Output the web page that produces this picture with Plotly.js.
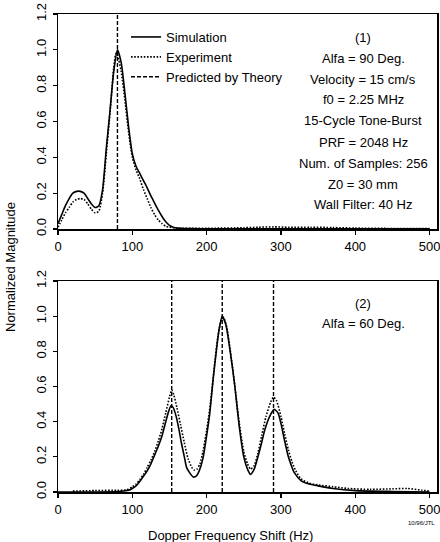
<!DOCTYPE html>
<html>
<head>
<meta charset="utf-8">
<script src="https://cdn.plot.ly/plotly-3.0.1.min.js"></script>
<style>
  html, body { margin: 0; padding: 0; background: #fff; }
  #chart { width: 440px; height: 542px; }
</style>
</head>
<body>
<div id="chart"></div>
<script>
// ---------------- DATA ----------------
// Panel (1): Alfa = 90 deg
var sim1X = [0, 5, 10, 15, 20, 25, 30, 35, 40, 45, 50, 55, 60, 65, 70, 75, 80, 85, 90, 95, 100, 105, 110, 115, 120, 125, 130, 135, 140, 145, 150, 155, 160, 180, 200, 250, 300, 350, 400, 450, 500];
var sim1Y = [0.03, 0.08, 0.13, 0.17, 0.20, 0.21, 0.21, 0.20, 0.17, 0.14, 0.12, 0.13, 0.22, 0.45, 0.66, 0.88, 1.00, 0.93, 0.76, 0.57, 0.42, 0.35, 0.31, 0.27, 0.23, 0.185, 0.145, 0.105, 0.07, 0.04, 0.02, 0.01, 0.005, 0.002, 0.001, 0.001, 0.001, 0.001, 0.001, 0.001, 0.001];
var exp1X = [0, 5, 10, 15, 20, 25, 30, 35, 40, 45, 50, 55, 60, 65, 70, 75, 78, 80, 85, 90, 95, 100, 105, 110, 115, 120, 125, 130, 135, 140, 145, 150, 160, 200, 250, 270, 290, 310, 340, 370, 400, 450, 500];
var exp1Y = [0.01, 0.05, 0.09, 0.12, 0.15, 0.165, 0.17, 0.165, 0.14, 0.11, 0.09, 0.10, 0.20, 0.42, 0.65, 0.90, 0.98, 0.97, 0.88, 0.72, 0.54, 0.40, 0.33, 0.28, 0.22, 0.17, 0.12, 0.08, 0.05, 0.03, 0.015, 0.01, 0.005, 0.004, 0.007, 0.01, 0.012, 0.01, 0.01, 0.008, 0.005, 0.003, 0.003];
var theory1 = [80];

// Panel (2): Alfa = 60 deg
var sim2X = [0, 40, 80, 95, 100, 105, 110, 115, 120, 125, 130, 135, 140, 145, 149, 152, 155, 159, 163, 166, 170, 173, 177, 182, 186, 190, 195, 200, 204, 209, 213, 217, 221, 226, 231, 235, 238, 244, 250, 255, 259, 264, 269, 274, 278, 286, 291, 296, 300, 305, 310, 314, 318, 327, 338, 350, 370, 400, 450, 500];
var sim2Y = [0, 0, 0.003, 0.01, 0.02, 0.035, 0.06, 0.09, 0.12, 0.16, 0.21, 0.26, 0.32, 0.40, 0.46, 0.49, 0.48, 0.43, 0.35, 0.28, 0.20, 0.14, 0.11, 0.085, 0.09, 0.12, 0.19, 0.32, 0.44, 0.65, 0.80, 0.93, 1.00, 0.95, 0.82, 0.70, 0.60, 0.37, 0.20, 0.13, 0.10, 0.13, 0.20, 0.28, 0.35, 0.44, 0.47, 0.45, 0.39, 0.29, 0.20, 0.15, 0.11, 0.065, 0.045, 0.035, 0.02, 0.008, 0.003, 0];
var exp2X = [20, 50, 80, 92, 100, 105, 110, 115, 120, 125, 130, 135, 140, 145, 150, 153, 156, 160, 165, 170, 175, 180, 183, 187, 191, 195, 200, 205, 210, 215, 220, 223, 227, 232, 238, 244, 250, 255, 259, 264, 269, 274, 280, 286, 290, 294, 300, 305, 310, 315, 320, 327, 338, 350, 370, 390, 420, 450, 470, 490, 500];
var exp2Y = [0.005, 0.008, 0.01, 0.012, 0.03, 0.045, 0.07, 0.10, 0.14, 0.18, 0.23, 0.29, 0.36, 0.45, 0.54, 0.58, 0.55, 0.48, 0.38, 0.28, 0.19, 0.14, 0.125, 0.13, 0.16, 0.23, 0.35, 0.50, 0.70, 0.88, 0.98, 0.99, 0.94, 0.80, 0.60, 0.39, 0.23, 0.16, 0.13, 0.15, 0.22, 0.32, 0.43, 0.51, 0.54, 0.52, 0.43, 0.33, 0.24, 0.17, 0.12, 0.075, 0.05, 0.04, 0.03, 0.02, 0.015, 0.018, 0.02, 0.01, 0.005];
var theory2 = [153, 221, 290];

var xTicks = [0, 100, 200, 300, 400, 500];
var yTicks = [0, 0.2, 0.4, 0.6, 0.8, 1.0, 1.2];
var yTickText = ['0.0', '0.2', '0.4', '0.6', '0.8', '1.0', '1.2'];
var yMax = 1.2;

var legendNames = ['Simulation', 'Experiment', 'Predicted by Theory'];
var info1 = ['(1)', 'Alfa = 90 Deg.', 'Velocity = 15 cm/s', 'f0 = 2.25 MHz', '15-Cycle Tone-Burst', 'PRF = 2048 Hz', 'Num. of Samples: 256', 'Z0 = 30 mm', 'Wall Filter: 40 Hz'];
var info2 = ['(2)', 'Alfa = 60 Deg.'];
var yTitle = 'Normalized Magnitude';
var xTitle = 'Dopper Frequency Shift (Hz)';
var stamp = '10/96/JTL';

// ---------------- BUILD ----------------
function vlines(vals) {
  var x = [], y = [];
  vals.forEach(function (v) { x.push(v, v, null); y.push(0, yMax, null); });
  return {x: x, y: y};
}
var FONT = 'Liberation Sans, Arial, Helvetica, sans-serif';
var FS = 13;
var solid = {color: '#000', width: 1.6, dash: 'solid', shape: 'spline', smoothing: 0.6};
var dotted = {color: '#000', width: 1.6, dash: '1.6px,1.6px', shape: 'spline', smoothing: 0.6};
var dashed = {color: '#000', width: 1.4, dash: '4px,2px', shape: 'linear'};

var v1 = vlines(theory1), v2 = vlines(theory2);
var traces = [
  {x: sim1X, y: sim1Y, xaxis: 'x', yaxis: 'y', mode: 'lines', line: solid, name: legendNames[0]},
  {x: exp1X, y: exp1Y, xaxis: 'x', yaxis: 'y', mode: 'lines', line: dotted, name: legendNames[1]},
  {x: v1.x, y: v1.y, xaxis: 'x', yaxis: 'y', mode: 'lines', line: dashed, name: legendNames[2]},
  {x: sim2X, y: sim2Y, xaxis: 'x2', yaxis: 'y2', mode: 'lines', line: solid, showlegend: false},
  {x: exp2X, y: exp2Y, xaxis: 'x2', yaxis: 'y2', mode: 'lines', line: dotted, showlegend: false},
  {x: v2.x, y: v2.y, xaxis: 'x2', yaxis: 'y2', mode: 'lines', line: dashed, showlegend: false}
];
traces.forEach(function (t) { t.hoverinfo = 'skip'; });

// pixel -> paper helpers (layout only)
var W = 440, H = 542, ML = 58, MR = 3, MT = 14, MB = 50;
var PW = W - ML - MR, PH = H - MT - MB;
function px(p) { return (p - ML) / PW; }
function py(p) { return (H - MB - p) / PH; }

function xax(anchor) {
  return {
    anchor: anchor, range: [0, 510], tickvals: xTicks, ticktext: xTicks.map(String),
    showgrid: false, zeroline: false, showline: true, mirror: true,
    linecolor: '#000', linewidth: 1.5, ticks: 'outside', ticklen: 4, tickwidth: 1.2, tickcolor: '#000',
    tickfont: {family: FONT, size: FS, color: '#000'}, ticklabelstandoff: 1, ticklabeloverflow: 'allow'
  };
}
function yax(anchor, dom) {
  return {
    anchor: anchor, domain: dom, range: [0, yMax], tickvals: yTicks, ticktext: yTickText,
    showgrid: false, zeroline: false, showline: true, mirror: true,
    linecolor: '#000', linewidth: 1.5, ticks: 'outside', ticklen: 4, tickwidth: 1.2, tickcolor: '#000',
    tickangle: -90, tickfont: {family: FONT, size: FS, color: '#000'}, ticklabelstandoff: 1, ticklabeloverflow: 'allow'
  };
}

var annotations = [];
function addText(t, x, y, size, angle) {
  annotations.push({text: t, xref: 'paper', yref: 'paper', x: px(x), y: py(y), textangle: angle || 0,
    xanchor: 'center', yanchor: 'middle', showarrow: false, font: {family: FONT, size: size, color: '#000'}});
}
info1.forEach(function (t, i) { addText(t, 363, 37 + i * 21, FS); });
info2.forEach(function (t, i) { addText(t, 363, 303 + i * 20, FS); });
addText(yTitle, 10, 267, FS, -90);
addText(xTitle, 230, 535, FS);
addText(stamp, 421, 523, 6);

var layout = {
  width: W, height: H,
  margin: {l: ML, r: MR, t: MT, b: MB, pad: 0},
  paper_bgcolor: '#fff', plot_bgcolor: '#fff',
  font: {family: FONT, size: FS, color: '#000'},
  xaxis: xax('y'),
  yaxis: yax('x', [py(229), 1]),
  xaxis2: xax('y2'),
  yaxis2: yax('x2', [0, py(281)]),
  showlegend: true,
  legend: {x: px(126), y: py(22), xanchor: 'left', yanchor: 'top', bgcolor: 'rgba(0,0,0,0)',
    font: {family: FONT, size: FS, color: '#000'}, traceorder: 'normal', itemwidth: 30},
  annotations: annotations
};

Plotly.newPlot('chart', traces, layout, {staticPlot: true, displayModeBar: false});
</script>
</body>
</html>
